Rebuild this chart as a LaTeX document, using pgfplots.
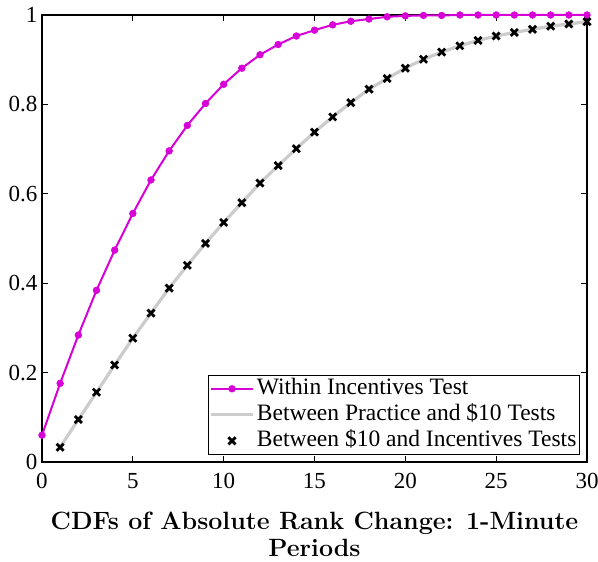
\documentclass[border=0pt]{standalone}
\usepackage{fontspec}
\usepackage{pgfplots}
\pgfplotsset{compat=1.18}
\newfontfamily\timesfont{Liberation Serif}
\definecolor{mag}{RGB}{215,0,215}
\definecolor{lgray}{RGB}{204,204,204}

\pgfplotstableread{
x y
0 0.060
1 0.176
2 0.284
3 0.384
4 0.474
5 0.556
6 0.631
7 0.696
8 0.753
9 0.802
10 0.845
11 0.881
12 0.911
13 0.934
14 0.953
15 0.966
16 0.978
17 0.986
18 0.991
19 0.996
20 0.998
21 0.999
22 0.999
23 1.000
24 1.000
25 1.000
26 1.000
27 1.000
28 1.000
29 1.000
30 1.000
}\within

\pgfplotstableread{
x y
1 0.033
2 0.095
3 0.156
4 0.217
5 0.277
6 0.333
7 0.389
8 0.440
9 0.489
10 0.536
11 0.580
12 0.624
13 0.663
14 0.701
15 0.738
16 0.772
17 0.804
18 0.834
19 0.858
20 0.881
21 0.901
22 0.917
23 0.931
24 0.943
25 0.953
26 0.961
27 0.968
28 0.975
29 0.980
30 0.985
}\practiceten

\pgfplotstableread{
x y
1 0.033
2 0.095
3 0.156
4 0.217
5 0.277
6 0.333
7 0.389
8 0.440
9 0.489
10 0.536
11 0.580
12 0.624
13 0.663
14 0.701
15 0.738
16 0.772
17 0.804
18 0.834
19 0.858
20 0.881
21 0.901
22 0.917
23 0.931
24 0.943
25 0.953
26 0.961
27 0.968
28 0.975
29 0.980
30 0.985
}\tenincent

\begin{document}
\begin{tikzpicture}
\begin{axis}[
  at={(0,0)}, anchor=south west,
  scale only axis, width=545pt, height=447pt,
  xmin=0, xmax=30, ymin=0, ymax=1,
  xtick={0,5,10,15,20,25,30},
  ytick={0,0.2,0.4,0.6,0.8,1},
  yticklabels={0,0.2,0.4,0.6,0.8,1},
  tick align=inside, tick pos=both,
  major tick length=6pt,
  axis line style={line width=1.2pt},
  tick style={line width=1pt, black},
  /pgf/number format/assume math mode=true,
  tick label style={font=\fontsize{23}{26}\timesfont},
  xticklabel style={yshift=-8pt},
  yticklabel style={xshift=-1pt},
  clip=false,
  legend cell align=left,
  legend style={at={(rel axis cs:0.987,0.016)}, anchor=south east,
    font=\fontsize{23.5}{27}\timesfont, draw=black, line width=1.1pt,
    inner sep=1pt, row sep=1pt,
    nodes={inner sep=2pt, text height=16pt, text depth=5pt}},
  legend image code/.code={%
    \draw[mark repeat=2, mark phase=2]
      plot coordinates {(0cm,0cm) (0.75cm,0cm) (1.5cm,0cm)};},
]
\addplot[mag, line width=2pt, mark=*, mark size=3.4pt,
  mark options={solid, fill=mag, draw=mag, line width=0.5pt}] table {\within};
\addlegendentry{Within Incentives Test}
\addplot[lgray, line width=3.2pt] table {\practiceten};
\addlegendentry{Between Practice and \$10 Tests}
\addplot[only marks, black, mark=x, mark size=5pt,
  mark options={line width=2.8pt}] table {\tenincent};
\addlegendentry{Between \$10 and Incentives Tests}
\node[anchor=north, align=center, inner sep=0pt,
  font=\fontsize{25}{27}\selectfont\bfseries]
  at (rel axis cs:0.5,0) [yshift=-50pt]
  {CDFs of Absolute Rank Change: 1-Minute\\Periods};
\end{axis}
\pgfresetboundingbox
\path (-42pt,-100pt) rectangle (556pt,462pt);
\end{tikzpicture}
\end{document}
